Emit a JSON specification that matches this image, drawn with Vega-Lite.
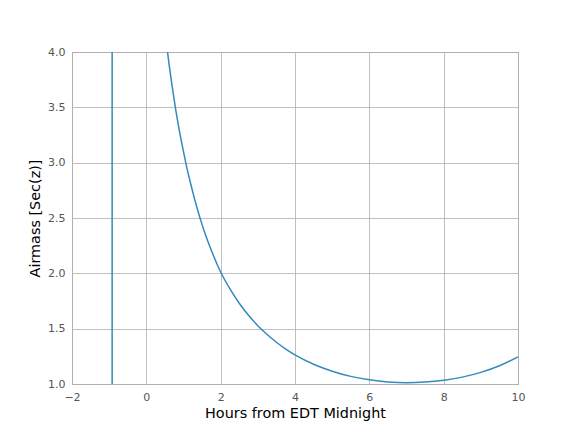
{
  "$schema": "https://vega.github.io/schema/vega-lite/v6.json",
  "width": 446,
  "height": 332,
  "autosize": {"type": "none"},
  "padding": {"left": 72, "top": 52, "right": 58, "bottom": 48},
  "background": "white",
  "config": {
    "view": {"stroke": "#b0b0b0", "strokeWidth": 1},
    "font": "DejaVu Sans",
    "axis": {
      "labelFont": "DejaVu Sans",
      "labelFontSize": 11,
      "labelColor": "#555555",
      "labelFlush": false,
      "labelOverlap": false,
      "titleFont": "DejaVu Sans",
      "titleFontSize": 14.4,
      "titleFontWeight": "normal",
      "titleColor": "#000000",
      "gridColor": "#b0b0b0",
      "gridOpacity": 1,
      "gridWidth": 0.8,
      "domainColor": "#b0b0b0",
      "ticks": false,
      "labelPadding": 7
    }
  },
  "datasets": {
    "curve": [
      {"t": 0.5, "airmass": 4.2},
      {"t": 0.55, "airmass": 4.06},
      {"t": 0.6, "airmass": 3.92},
      {"t": 0.7, "airmass": 3.68},
      {"t": 0.8, "airmass": 3.46},
      {"t": 0.9, "airmass": 3.27},
      {"t": 1.0, "airmass": 3.1},
      {"t": 1.1, "airmass": 2.94},
      {"t": 1.2, "airmass": 2.8},
      {"t": 1.3, "airmass": 2.67},
      {"t": 1.4, "airmass": 2.55},
      {"t": 1.5, "airmass": 2.44},
      {"t": 1.6, "airmass": 2.34},
      {"t": 1.7, "airmass": 2.25},
      {"t": 1.8, "airmass": 2.165},
      {"t": 1.9, "airmass": 2.085},
      {"t": 2.0, "airmass": 2.012},
      {"t": 2.25, "airmass": 1.859},
      {"t": 2.5, "airmass": 1.73},
      {"t": 2.75, "airmass": 1.621},
      {"t": 3.0, "airmass": 1.527},
      {"t": 3.25, "airmass": 1.447},
      {"t": 3.5, "airmass": 1.377},
      {"t": 3.75, "airmass": 1.316},
      {"t": 4.0, "airmass": 1.264},
      {"t": 4.5, "airmass": 1.179},
      {"t": 5.0, "airmass": 1.116},
      {"t": 5.5, "airmass": 1.069},
      {"t": 6.0, "airmass": 1.038},
      {"t": 6.5, "airmass": 1.019},
      {"t": 7.0, "airmass": 1.012},
      {"t": 7.5, "airmass": 1.017},
      {"t": 8.0, "airmass": 1.033},
      {"t": 8.5, "airmass": 1.062},
      {"t": 9.0, "airmass": 1.105},
      {"t": 9.5, "airmass": 1.165},
      {"t": 10.0, "airmass": 1.245}
    ],
    "marker": [
      {"t": -0.92}
    ]
  },
  "layer": [
    {
      "data": {"name": "curve"},
      "mark": {"type": "line", "color": "#348ABD", "strokeWidth": 1.5, "clip": true, "interpolate": "monotone"},
      "encoding": {
        "x": {
          "field": "t", "type": "quantitative",
          "scale": {"domain": [-2, 10], "nice": false, "zero": false},
          "axis": {"title": "Hours from EDT Midnight", "values": [-2, 0, 2, 4, 6, 8, 10], "labelExpr": "replace(datum.label, '-', '\u2212')", "titlePadding": 4}
        },
        "y": {
          "field": "airmass", "type": "quantitative",
          "scale": {"domain": [1, 4], "nice": false, "zero": false},
          "axis": {"title": "Airmass [Sec(z)]", "values": [1, 1.5, 2, 2.5, 3, 3.5, 4], "format": ".1f", "titlePadding": 5}
        }
      }
    },
    {
      "data": {"name": "marker"},
      "mark": {"type": "rule", "color": "#348ABD", "strokeWidth": 1.5},
      "encoding": {
        "x": {"field": "t", "type": "quantitative"}
      }
    }
  ]
}
